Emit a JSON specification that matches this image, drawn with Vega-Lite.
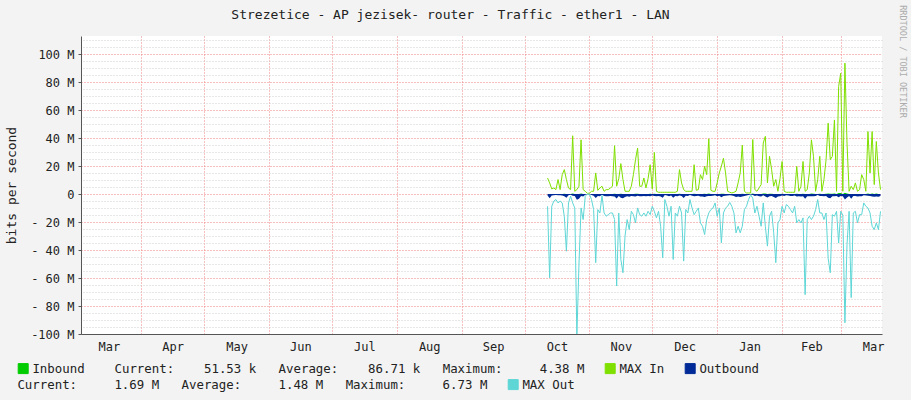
{
  "$schema": "https://vega.github.io/schema/vega-lite/v6.json",
  "width": 801,
  "height": 298,
  "autosize": {"type": "none"},
  "padding": {"left": 81, "top": 36, "right": 29, "bottom": 66},
  "background": "#F3F3F3",
  "config": {
    "view": {"fill": "white", "stroke": null},
    "font": "DejaVu Sans Mono"
  },
  "title": {
    "text": "Strezetice - AP jezisek- router - Traffic - ether1 - LAN",
    "font": "DejaVu Sans Mono",
    "fontSize": 13,
    "fontWeight": "normal",
    "color": "#222222",
    "anchor": "middle",
    "frame": "group",
    "dx": -31,
    "dy": 34,
    "offset": 4,
    "baseline": "bottom"
  },
  "data": {
    "values": [
      {"date":"2013-10-12","inbound":0.12,"max_in":11.5,"outbound":-1.0,"max_out":-8.7},
      {"date":"2013-10-13","inbound":0.10,"max_in":8.0,"outbound":-3.0,"max_out":-59.8},
      {"date":"2013-10-14","inbound":0.05,"max_in":3.7,"outbound":-1.0,"max_out":-8.7},
      {"date":"2013-10-15","inbound":0.06,"max_in":4.4,"outbound":-0.8,"max_out":-5.0},
      {"date":"2013-10-16","inbound":0.05,"max_in":3.2,"outbound":-0.7,"max_out":-3.9},
      {"date":"2013-10-17","inbound":0.10,"max_in":10.4,"outbound":-0.9,"max_out":-6.3},
      {"date":"2013-10-18","inbound":0.05,"max_in":3.2,"outbound":-0.8,"max_out":-5.0},
      {"date":"2013-10-19","inbound":0.14,"max_in":13.9,"outbound":-1.0,"max_out":-6.3},
      {"date":"2013-10-20","inbound":0.18,"max_in":17.5,"outbound":-1.5,"max_out":-15.8},
      {"date":"2013-10-21","inbound":0.12,"max_in":10.4,"outbound":-2.6,"max_out":-40.8},
      {"date":"2013-10-22","inbound":0.06,"max_in":4.4,"outbound":-0.9,"max_out":-6.3},
      {"date":"2013-10-23","inbound":0.05,"max_in":3.2,"outbound":-0.5,"max_out":-1.5},
      {"date":"2013-10-24","inbound":0.40,"max_in":41.7,"outbound":-1.1,"max_out":-6.3},
      {"date":"2013-10-25","inbound":0.04,"max_in":2.0,"outbound":-1.3,"max_out":-9.9},
      {"date":"2013-10-26","inbound":0.06,"max_in":3.2,"outbound":-4.0,"max_out":-102},
      {"date":"2013-10-27","inbound":0.08,"max_in":5.6,"outbound":-3.3,"max_out":-50.0},
      {"date":"2013-10-28","inbound":0.35,"max_in":38.8,"outbound":-1.4,"max_out":-9.9},
      {"date":"2013-10-29","inbound":0.05,"max_in":3.2,"outbound":-1.7,"max_out":-18.2},
      {"date":"2013-10-30","inbound":0.04,"max_in":2.0,"outbound":-0.4,"max_out":-1.5},
      {"date":"2013-10-31","inbound":0.02,"max_in":0.6,"outbound":-0.1,"max_out":0},
      {"date":"2013-11-01","inbound":0.02,"max_in":0.6,"outbound":-0.1,"max_out":0},
      {"date":"2013-11-02","inbound":0.04,"max_in":2.0,"outbound":-0.7,"max_out":-3.9},
      {"date":"2013-11-03","inbound":0.04,"max_in":2.0,"outbound":-1.2,"max_out":-11.1},
      {"date":"2013-11-04","inbound":0.15,"max_in":15.1,"outbound":-2.8,"max_out":-49.0},
      {"date":"2013-11-05","inbound":0.05,"max_in":2.7,"outbound":-1.3,"max_out":-11.1},
      {"date":"2013-11-06","inbound":0.06,"max_in":4.4,"outbound":-1.5,"max_out":-13.5},
      {"date":"2013-11-07","inbound":0.07,"max_in":5.6,"outbound":-0.4,"max_out":-1.0},
      {"date":"2013-11-08","inbound":0.04,"max_in":2.0,"outbound":-1.4,"max_out":-13.5},
      {"date":"2013-11-09","inbound":0.05,"max_in":3.2,"outbound":-1.6,"max_out":-15.8},
      {"date":"2013-11-10","inbound":0.05,"max_in":3.2,"outbound":-1.5,"max_out":-14.7},
      {"date":"2013-11-11","inbound":0.06,"max_in":4.4,"outbound":-1.4,"max_out":-13.5},
      {"date":"2013-11-12","inbound":0.07,"max_in":5.6,"outbound":-1.5,"max_out":-13.5},
      {"date":"2013-11-13","inbound":0.30,"max_in":34.6,"outbound":-1.7,"max_out":-18.2},
      {"date":"2013-11-14","inbound":0.07,"max_in":5.6,"outbound":-3.1,"max_out":-65.7},
      {"date":"2013-11-15","inbound":0.11,"max_in":11.0,"outbound":-1.4,"max_out":-13.5},
      {"date":"2013-11-16","inbound":0.20,"max_in":21.8,"outbound":-2.7,"max_out":-46.7},
      {"date":"2013-11-17","inbound":0.11,"max_in":10.4,"outbound":-2.9,"max_out":-56.2},
      {"date":"2013-11-18","inbound":0.04,"max_in":2.0,"outbound":-2.0,"max_out":-30.0},
      {"date":"2013-11-19","inbound":0.04,"max_in":2.0,"outbound":-1.6,"max_out":-18.2},
      {"date":"2013-11-20","inbound":0.04,"max_in":2.0,"outbound":-1.9,"max_out":-25.4},
      {"date":"2013-11-21","inbound":0.07,"max_in":5.6,"outbound":-1.3,"max_out":-12.3},
      {"date":"2013-11-22","inbound":0.14,"max_in":13.9,"outbound":-1.5,"max_out":-14.7},
      {"date":"2013-11-23","inbound":0.22,"max_in":24.6,"outbound":-1.7,"max_out":-20.6},
      {"date":"2013-11-24","inbound":0.30,"max_in":32.9,"outbound":-1.2,"max_out":-9.9},
      {"date":"2013-11-25","inbound":0.07,"max_in":5.6,"outbound":-1.5,"max_out":-14.7},
      {"date":"2013-11-26","inbound":0.07,"max_in":5.6,"outbound":-1.6,"max_out":-15.8},
      {"date":"2013-11-27","inbound":0.12,"max_in":11.5,"outbound":-1.4,"max_out":-13.5},
      {"date":"2013-11-28","inbound":0.06,"max_in":4.4,"outbound":-1.6,"max_out":-15.8},
      {"date":"2013-11-29","inbound":0.11,"max_in":11.0,"outbound":-1.3,"max_out":-12.3},
      {"date":"2013-11-30","inbound":0.20,"max_in":21.0,"outbound":-1.5,"max_out":-14.7},
      {"date":"2013-12-01","inbound":0.05,"max_in":3.7,"outbound":-1.0,"max_out":-8.7},
      {"date":"2013-12-02","inbound":0.28,"max_in":29.8,"outbound":-1.3,"max_out":-12.3},
      {"date":"2013-12-03","inbound":0.04,"max_in":2.0,"outbound":-1.6,"max_out":-17.0},
      {"date":"2013-12-04","inbound":0.03,"max_in":1.3,"outbound":-1.3,"max_out":-12.3},
      {"date":"2013-12-05","inbound":0.03,"max_in":1.3,"outbound":-1.8,"max_out":-23.0},
      {"date":"2013-12-06","inbound":0.03,"max_in":1.3,"outbound":-2.6,"max_out":-45.5},
      {"date":"2013-12-07","inbound":0.03,"max_in":1.3,"outbound":-0.7,"max_out":-3.9},
      {"date":"2013-12-08","inbound":0.03,"max_in":1.3,"outbound":-1.0,"max_out":-8.7},
      {"date":"2013-12-09","inbound":0.03,"max_in":1.3,"outbound":-1.6,"max_out":-15.8},
      {"date":"2013-12-10","inbound":0.03,"max_in":1.3,"outbound":-1.0,"max_out":-8.7},
      {"date":"2013-12-11","inbound":0.03,"max_in":1.3,"outbound":-2.7,"max_out":-46.7},
      {"date":"2013-12-12","inbound":0.03,"max_in":1.3,"outbound":-1.4,"max_out":-13.5},
      {"date":"2013-12-13","inbound":0.04,"max_in":2.0,"outbound":-1.6,"max_out":-15.8},
      {"date":"2013-12-14","inbound":0.17,"max_in":17.5,"outbound":-1.0,"max_out":-8.7},
      {"date":"2013-12-15","inbound":0.09,"max_in":8.0,"outbound":-1.4,"max_out":-13.5},
      {"date":"2013-12-16","inbound":0.05,"max_in":3.2,"outbound":-2.8,"max_out":-47.9},
      {"date":"2013-12-17","inbound":0.04,"max_in":2.0,"outbound":-1.2,"max_out":-11.0},
      {"date":"2013-12-18","inbound":0.04,"max_in":2.0,"outbound":-1.4,"max_out":-13.5},
      {"date":"2013-12-19","inbound":0.04,"max_in":2.0,"outbound":-0.7,"max_out":-3.9},
      {"date":"2013-12-20","inbound":0.04,"max_in":2.0,"outbound":-1.2,"max_out":-9.9},
      {"date":"2013-12-21","inbound":0.20,"max_in":21.0,"outbound":-1.5,"max_out":-14.7},
      {"date":"2013-12-22","inbound":0.05,"max_in":2.7,"outbound":-1.3,"max_out":-12.3},
      {"date":"2013-12-23","inbound":0.05,"max_in":3.2,"outbound":-1.2,"max_out":-9.9},
      {"date":"2013-12-24","inbound":0.14,"max_in":13.9,"outbound":-1.7,"max_out":-20.6},
      {"date":"2013-12-25","inbound":0.11,"max_in":10.4,"outbound":-1.8,"max_out":-23.0},
      {"date":"2013-12-26","inbound":0.19,"max_in":19.9,"outbound":-2.1,"max_out":-28.9},
      {"date":"2013-12-27","inbound":0.14,"max_in":13.9,"outbound":-1.6,"max_out":-18.2},
      {"date":"2013-12-28","inbound":0.38,"max_in":39.5,"outbound":-1.4,"max_out":-13.5},
      {"date":"2013-12-29","inbound":0.05,"max_in":2.7,"outbound":-1.3,"max_out":-11.1},
      {"date":"2013-12-30","inbound":0.04,"max_in":2.0,"outbound":-1.2,"max_out":-9.9},
      {"date":"2013-12-31","inbound":0.04,"max_in":2.0,"outbound":-0.9,"max_out":-6.3},
      {"date":"2014-01-01","inbound":0.09,"max_in":8.0,"outbound":-1.6,"max_out":-15.8},
      {"date":"2014-01-02","inbound":0.15,"max_in":15.1,"outbound":-1.2,"max_out":-9.9},
      {"date":"2014-01-03","inbound":0.19,"max_in":19.9,"outbound":-2.3,"max_out":-34.8},
      {"date":"2014-01-04","inbound":0.24,"max_in":25.6,"outbound":-1.4,"max_out":-13.5},
      {"date":"2014-01-05","inbound":0.15,"max_in":15.1,"outbound":-1.2,"max_out":-9.9},
      {"date":"2014-01-06","inbound":0.04,"max_in":2.0,"outbound":-1.0,"max_out":-8.7},
      {"date":"2014-01-07","inbound":0.03,"max_in":1.3,"outbound":-0.9,"max_out":-6.0},
      {"date":"2014-01-08","inbound":0.02,"max_in":0.8,"outbound":-1.0,"max_out":-8.7},
      {"date":"2014-01-09","inbound":0.03,"max_in":1.3,"outbound":-1.4,"max_out":-13.5},
      {"date":"2014-01-10","inbound":0.04,"max_in":2.0,"outbound":-2.1,"max_out":-27.7},
      {"date":"2014-01-11","inbound":0.09,"max_in":8.0,"outbound":-1.8,"max_out":-23.0},
      {"date":"2014-01-12","inbound":0.15,"max_in":15.1,"outbound":-2.1,"max_out":-27.7},
      {"date":"2014-01-13","inbound":0.33,"max_in":35.0,"outbound":-1.8,"max_out":-23.0},
      {"date":"2014-01-14","inbound":0.04,"max_in":2.0,"outbound":-1.3,"max_out":-11.1},
      {"date":"2014-01-15","inbound":0.02,"max_in":0.8,"outbound":-1.0,"max_out":-8.7},
      {"date":"2014-01-16","inbound":0.02,"max_in":0.8,"outbound":-0.7,"max_out":-3.9},
      {"date":"2014-01-17","inbound":0.02,"max_in":0.8,"outbound":-0.3,"max_out":-0.5},
      {"date":"2014-01-18","inbound":0.36,"max_in":39.0,"outbound":-0.6,"max_out":-3.0},
      {"date":"2014-01-19","inbound":0.05,"max_in":3.2,"outbound":-1.4,"max_out":-13.5},
      {"date":"2014-01-20","inbound":0.04,"max_in":2.0,"outbound":-1.0,"max_out":-8.7},
      {"date":"2014-01-21","inbound":0.06,"max_in":4.4,"outbound":-1.6,"max_out":-15.8},
      {"date":"2014-01-22","inbound":0.08,"max_in":6.8,"outbound":-1.8,"max_out":-23.0},
      {"date":"2014-01-23","inbound":0.34,"max_in":36.5,"outbound":-0.9,"max_out":-6.3},
      {"date":"2014-01-24","inbound":0.40,"max_in":41.3,"outbound":-1.8,"max_out":-23.0},
      {"date":"2014-01-25","inbound":0.09,"max_in":8.0,"outbound":-2.4,"max_out":-37.2},
      {"date":"2014-01-26","inbound":0.25,"max_in":27.0,"outbound":-1.6,"max_out":-15.8},
      {"date":"2014-01-27","inbound":0.17,"max_in":17.5,"outbound":-1.3,"max_out":-12.3},
      {"date":"2014-01-28","inbound":0.07,"max_in":5.6,"outbound":-2.1,"max_out":-27.7},
      {"date":"2014-01-29","inbound":0.11,"max_in":10.4,"outbound":-2.8,"max_out":-49.0},
      {"date":"2014-01-30","inbound":0.04,"max_in":2.0,"outbound":-1.7,"max_out":-20.6},
      {"date":"2014-01-31","inbound":0.11,"max_in":11.0,"outbound":-1.6,"max_out":-18.2},
      {"date":"2014-02-01","inbound":0.21,"max_in":23.3,"outbound":-1.0,"max_out":-8.7},
      {"date":"2014-02-02","inbound":0.04,"max_in":2.0,"outbound":-1.4,"max_out":-13.5},
      {"date":"2014-02-03","inbound":0.03,"max_in":1.3,"outbound":-0.9,"max_out":-7.5},
      {"date":"2014-02-04","inbound":0.03,"max_in":1.3,"outbound":-1.0,"max_out":-8.7},
      {"date":"2014-02-05","inbound":0.03,"max_in":1.3,"outbound":-1.3,"max_out":-11.1},
      {"date":"2014-02-06","inbound":0.03,"max_in":1.3,"outbound":-1.4,"max_out":-13.5},
      {"date":"2014-02-07","inbound":0.03,"max_in":1.3,"outbound":-1.0,"max_out":-8.7},
      {"date":"2014-02-08","inbound":0.19,"max_in":19.9,"outbound":-1.7,"max_out":-20.6},
      {"date":"2014-02-09","inbound":0.04,"max_in":2.0,"outbound":-1.6,"max_out":-18.2},
      {"date":"2014-02-10","inbound":0.07,"max_in":5.6,"outbound":-1.7,"max_out":-20.6},
      {"date":"2014-02-11","inbound":0.22,"max_in":23.3,"outbound":-1.6,"max_out":-17.0},
      {"date":"2014-02-12","inbound":0.04,"max_in":2.0,"outbound":-3.3,"max_out":-71.9},
      {"date":"2014-02-13","inbound":0.05,"max_in":3.2,"outbound":-1.6,"max_out":-18.2},
      {"date":"2014-02-14","inbound":0.15,"max_in":15.1,"outbound":-1.6,"max_out":-15.8},
      {"date":"2014-02-15","inbound":0.36,"max_in":38.8,"outbound":-1.6,"max_out":-18.2},
      {"date":"2014-02-16","inbound":0.26,"max_in":27.0,"outbound":-1.6,"max_out":-15.8},
      {"date":"2014-02-17","inbound":0.04,"max_in":2.0,"outbound":-1.3,"max_out":-11.1},
      {"date":"2014-02-18","inbound":0.11,"max_in":10.4,"outbound":-0.7,"max_out":-3.9},
      {"date":"2014-02-19","inbound":0.26,"max_in":27.0,"outbound":-1.4,"max_out":-13.5},
      {"date":"2014-02-20","inbound":0.04,"max_in":2.0,"outbound":-1.4,"max_out":-13.5},
      {"date":"2014-02-21","inbound":0.11,"max_in":10.4,"outbound":-1.6,"max_out":-18.2},
      {"date":"2014-02-22","inbound":0.23,"max_in":24.6,"outbound":-1.4,"max_out":-13.5},
      {"date":"2014-02-23","inbound":0.48,"max_in":50.7,"outbound":-2.7,"max_out":-46.0},
      {"date":"2014-02-24","inbound":0.23,"max_in":24.6,"outbound":-2.9,"max_out":-56.2},
      {"date":"2014-02-25","inbound":0.26,"max_in":27.0,"outbound":-1.5,"max_out":-14.7},
      {"date":"2014-02-26","inbound":0.50,"max_in":53.0,"outbound":-1.6,"max_out":-15.8},
      {"date":"2014-02-27","inbound":0.04,"max_in":2.0,"outbound":-1.3,"max_out":-12.3},
      {"date":"2014-02-28","inbound":0.70,"max_in":76.9,"outbound":-2.3,"max_out":-35.0},
      {"date":"2014-03-01","inbound":0.80,"max_in":86.4,"outbound":-1.3,"max_out":-12.3},
      {"date":"2014-03-02","inbound":0.04,"max_in":2.0,"outbound":-1.5,"max_out":-15.0},
      {"date":"2014-03-03","inbound":0.90,"max_in":93.6,"outbound":-3.8,"max_out":-92.0},
      {"date":"2014-03-04","inbound":0.34,"max_in":36.5,"outbound":-2.4,"max_out":-36.0},
      {"date":"2014-03-05","inbound":0.04,"max_in":2.0,"outbound":-1.3,"max_out":-12.3},
      {"date":"2014-03-06","inbound":0.07,"max_in":5.6,"outbound":-3.4,"max_out":-74.0},
      {"date":"2014-03-07","inbound":0.05,"max_in":3.2,"outbound":-1.4,"max_out":-13.5},
      {"date":"2014-03-08","inbound":0.09,"max_in":8.0,"outbound":-1.3,"max_out":-12.3},
      {"date":"2014-03-09","inbound":0.04,"max_in":2.0,"outbound":-1.7,"max_out":-20.6},
      {"date":"2014-03-10","inbound":0.05,"max_in":3.2,"outbound":-1.5,"max_out":-14.7},
      {"date":"2014-03-11","inbound":0.14,"max_in":13.9,"outbound":-1.5,"max_out":-14.7},
      {"date":"2014-03-12","inbound":0.11,"max_in":10.4,"outbound":-0.9,"max_out":-6.3},
      {"date":"2014-03-13","inbound":0.04,"max_in":2.0,"outbound":-1.0,"max_out":-8.7},
      {"date":"2014-03-14","inbound":0.42,"max_in":44.7,"outbound":-1.2,"max_out":-9.9},
      {"date":"2014-03-15","inbound":0.15,"max_in":15.1,"outbound":-1.4,"max_out":-13.5},
      {"date":"2014-03-16","inbound":0.42,"max_in":44.7,"outbound":-1.8,"max_out":-23.0},
      {"date":"2014-03-17","inbound":0.08,"max_in":6.8,"outbound":-1.9,"max_out":-25.4},
      {"date":"2014-03-18","inbound":0.35,"max_in":37.6,"outbound":-1.7,"max_out":-20.6},
      {"date":"2014-03-19","inbound":0.15,"max_in":15.1,"outbound":-1.9,"max_out":-25.4},
      {"date":"2014-03-20","inbound":0.05,"max_in":3.2,"outbound":-1.3,"max_out":-12.3}
    ]
  },
  "layer": [
    {
      "mark": {"type": "area", "clip": true},
      "encoding": {
        "x": {
          "field": "date", "type": "temporal",
          "scale": {"type": "utc", "domain": [{"year": 2013, "month": 3, "date": 3, "hours": 5, "utc": true}, {"year": 2014, "month": 3, "date": 20, "hours": 17, "utc": true}]},
          "axis": {
            "orient": "bottom",
            "values": [
              {"year": 2013, "month": 4, "date": 1, "utc": true},
              {"year": 2013, "month": 5, "date": 1, "utc": true},
              {"year": 2013, "month": 6, "date": 1, "utc": true},
              {"year": 2013, "month": 7, "date": 1, "utc": true},
              {"year": 2013, "month": 8, "date": 1, "utc": true},
              {"year": 2013, "month": 9, "date": 1, "utc": true},
              {"year": 2013, "month": 10, "date": 1, "utc": true},
              {"year": 2013, "month": 11, "date": 1, "utc": true},
              {"year": 2013, "month": 12, "date": 1, "utc": true},
              {"year": 2014, "month": 1, "date": 1, "utc": true},
              {"year": 2014, "month": 2, "date": 1, "utc": true},
              {"year": 2014, "month": 3, "date": 1, "utc": true}
            ],
            "grid": true, "gridColor": "#F08080", "gridDash": [1, 2], "gridWidth": 1, "gridOpacity": 1,
            "labels": false, "ticks": false, "domain": false, "title": null
          }
        },
        "y": {
          "field": "inbound", "type": "quantitative",
          "scale": {"domain": [-100, 113], "nice": false, "zero": false},
          "axis": {
            "orient": "right",
            "values": [-95, -90, -85, -75, -70, -65, -55, -50, -45, -35, -30, -25, -15, -10, -5, 5, 10, 15, 25, 30, 35, 45, 50, 55, 65, 70, 75, 85, 90, 95, 105, 110],
            "grid": true, "gridColor": "#CFCFCF", "gridDash": [1, 2], "gridOpacity": 1,
            "labels": false, "ticks": false, "domain": false,
            "title": "RRDTOOL / TOBI OETIKER",
            "titleAngle": 90, "titleFont": "DejaVu Sans Mono", "titleFontSize": 8.5, "titleFontWeight": "normal",
            "titleColor": "#ABABAB", "titleX": 20.5, "titleY": 25, "titleAlign": "center", "titleBaseline": "middle"
          }
        },
        "color": {
          "datum": "Inbound",
          "scale": {
            "domain": ["Inbound", "MAX In", "Outbound"],
            "range": ["#00CC00", "#7FE000", "#002A97"]
          },
          "legend": {
            "orient": "none",
            "legendX": -64,
            "legendY": 326,
            "direction": "horizontal",
            "title": null,
            "padding": 0,
            "symbolType": "square",
            "symbolSize": 100,
            "symbolStrokeWidth": 1,
            "labelFont": "DejaVu Sans Mono",
            "labelFontSize": 12.4,
            "labelColor": "#222222",
            "labelLimit": 2000,
            "labelOffset": 3,
            "columnPadding": 18,
            "labelExpr": "datum.value == 'Inbound' ? 'Inbound\u00a0\u00a0\u00a0\u00a0Current:\u00a0\u00a0\u00a0\u00a051.53\u00a0k\u00a0\u00a0\u00a0Average:\u00a0\u00a0\u00a0\u00a086.71\u00a0k\u00a0\u00a0\u00a0Maximum:\u00a0\u00a0\u00a0\u00a0\u00a04.38\u00a0M' : datum.value",
            "encode": {
              "symbols": {
                "update": {
                  "fill": {"scale": "color", "field": "value"},
                  "stroke": {"value": "#000000"},
                  "strokeWidth": {"value": 1},
                  "opacity": {"value": 1}
                }
              }
            }
          }
        }
      }
    },
    {
      "mark": {"type": "line", "clip": true, "strokeWidth": 1, "interpolate": "linear"},
      "encoding": {
        "x": {
          "field": "date", "type": "temporal",
          "axis": {
            "orient": "bottom",
            "values": [
              {"year": 2013, "month": 3, "date": 16, "hours": 12, "utc": true},
              {"year": 2013, "month": 4, "date": 16, "utc": true},
              {"year": 2013, "month": 5, "date": 16, "hours": 12, "utc": true},
              {"year": 2013, "month": 6, "date": 16, "utc": true},
              {"year": 2013, "month": 7, "date": 16, "hours": 12, "utc": true},
              {"year": 2013, "month": 8, "date": 16, "hours": 12, "utc": true},
              {"year": 2013, "month": 9, "date": 16, "utc": true},
              {"year": 2013, "month": 10, "date": 16, "hours": 12, "utc": true},
              {"year": 2013, "month": 11, "date": 16, "utc": true},
              {"year": 2013, "month": 12, "date": 16, "hours": 12, "utc": true},
              {"year": 2014, "month": 1, "date": 16, "hours": 12, "utc": true},
              {"year": 2014, "month": 2, "date": 15, "utc": true},
              {"year": 2014, "month": 3, "date": 16, "hours": 12, "utc": true}
            ],
            "format": "%b",
            "grid": false, "ticks": false, "domain": true, "domainColor": "#555555", "domainWidth": 1,
            "labelFont": "DejaVu Sans Mono", "labelFontSize": 12, "labelColor": "#222222", "labelPadding": 7,
            "labelOverlap": false, "labelBound": false, "labelFlush": false,
            "title": null
          }
        },
        "y": {
          "field": "max_in", "type": "quantitative",
          "axis": {
            "orient": "left",
            "values": [-100, -80, -60, -40, -20, 0, 20, 40, 60, 80, 100],
            "labelExpr": "datum.value == 0 ? '0' : (datum.value < 0 ? (abs(datum.value) < 100 ? '- ' : '-') + abs(datum.value) : '' + datum.value) + ' M'",
            "grid": true, "gridColor": "#F08080", "gridDash": [1, 2], "gridOpacity": 1,
            "domain": true, "domainColor": "#555555", "domainWidth": 1,
            "ticks": true, "tickSize": 3, "tickColor": "#555555",
            "labelFont": "DejaVu Sans Mono", "labelFontSize": 12, "labelColor": "#222222", "labelPadding": 4,
            "title": "bits per second",
            "titleFont": "DejaVu Sans Mono", "titleFontSize": 13, "titleFontWeight": "normal", "titleColor": "#222222",
            "titleAngle": -90, "titleX": -70, "titleY": 149, "titleAlign": "center", "titleBaseline": "middle"
          }
        },
        "color": {"datum": "MAX In"}
      }
    },
    {
      "mark": {"type": "area", "clip": true},
      "encoding": {
        "x": {"field": "date", "type": "temporal", "axis": null},
        "y": {"field": "outbound", "type": "quantitative", "axis": null},
        "color": {"datum": "Outbound"}
      }
    },
    {
      "mark": {"type": "line", "clip": true, "strokeWidth": 1},
      "encoding": {
        "x": {"field": "date", "type": "temporal", "axis": null},
        "y": {"field": "max_out", "type": "quantitative", "axis": null},
        "stroke": {
          "datum": "MAX Out",
          "scale": {
            "domain": ["OutStats", "MAX Out"],
            "range": ["transparent", "#5ED6D6"]
          },
          "legend": {
            "orient": "none",
            "legendX": -64,
            "legendY": 342,
            "direction": "horizontal",
            "title": null,
            "padding": 0,
            "symbolType": "square",
            "symbolSize": 100,
            "symbolStrokeWidth": 1,
            "labelFont": "DejaVu Sans Mono",
            "labelFontSize": 12.4,
            "labelColor": "#222222",
            "labelLimit": 2000,
            "labelOffset": 3,
            "columnPadding": 18,
            "labelExpr": "datum.value == 'OutStats' ? 'Current:\u00a0\u00a0\u00a0\u00a0\u00a01.69\u00a0M\u00a0\u00a0\u00a0Average:\u00a0\u00a0\u00a0\u00a0\u00a01.48\u00a0M\u00a0\u00a0\u00a0Maximum:\u00a0\u00a0\u00a0\u00a0\u00a06.73\u00a0M' : datum.value",
            "encode": {
              "symbols": {
                "update": {
                  "fill": {"scale": "stroke", "field": "value"},
                  "stroke": {"signal": "datum.value === 'OutStats' ? 'transparent' : '#000000'"},
                  "strokeWidth": {"value": 1},
                  "opacity": {"value": 1}
                }
              },
              "labels": {
                "update": {
                  "dx": {"signal": "datum.value === 'OutStats' ? -15 : 0"}
                }
              }
            }
          }
        }
      }
    }
  ],
  "resolve": {"axis": {"x": "independent", "y": "independent"}}
}
